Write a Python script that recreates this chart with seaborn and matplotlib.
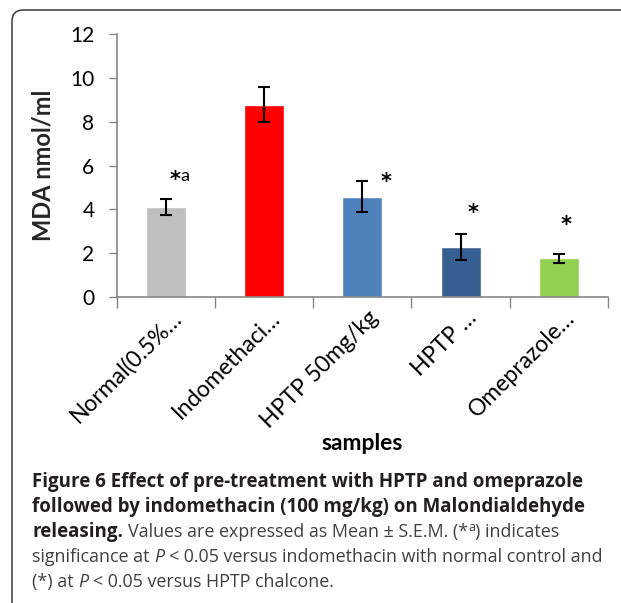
import numpy as np
import seaborn as sns
import matplotlib.pyplot as plt
from matplotlib.patches import FancyBboxPatch
from matplotlib.transforms import IdentityTransform, ScaledTranslation

# data
samples = ["Normal(0.5%\u2026", "Indomethaci\u2026", "HPTP 50mg/kg", "HPTP \u2026", "Omeprazole\u2026"]
mda = [4.12, 8.77, 4.57, 2.27, 1.77]
sem = [0.37, 0.80, 0.70, 0.60, 0.21]
bar_colors = ["#BFBFBF", "#FF0000", "#4F81BD", "#376092", "#92D050"]
marks = ["*", "", "*", "*", "*"]
mark_suffix = ["a", "", "", "", ""]
mark_x_shift = [0.09, 0.0, 0.24, 0.13, 0.07]
mark_y = [5.34, 0, 5.26, 3.83, 3.28]

W, H = 621, 603
sns.set_style("white")
plt.rcParams["font.family"] = ["Lato", "DejaVu Sans"]
plt.rcParams["text.color"] = "black"
plt.rcParams["xtick.labelcolor"] = "black"
plt.rcParams["ytick.labelcolor"] = "black"

fig = plt.figure(figsize=(W / 100, H / 100), dpi=100)
ax = fig.add_axes([116.7 / W, 1 - 297 / H, (608 - 116.7) / W, (297 - 34) / H])

sns.barplot(x=samples, y=mda, hue=samples, palette=bar_colors, saturation=1,
            width=0.407, legend=False, ax=ax)
ax.errorbar(np.arange(len(samples)), mda, yerr=sem, fmt="none", ecolor="black",
            elinewidth=1.5, capsize=4.3, capthick=1.5)

for i, m in enumerate(marks):
    if m:
        ax.text(i + mark_x_shift[i], mark_y[i], m, ha="center", va="center",
                fontsize=15, fontweight="bold", fontfamily="DejaVu Sans")
    if mark_suffix[i]:
        ax.annotate(mark_suffix[i], (i + mark_x_shift[i], mark_y[i]),
                    xytext=(7, 3), textcoords="offset points", ha="center",
                    va="center", fontsize=13)

ax.set_ylim(0, 12)
ax.set_xlim(-0.5, len(samples) - 0.5)
ax.set_yticks(range(0, 13, 2))
ax.tick_params(axis="y", labelsize=15, length=6, width=1, color="#868686",
               left=True, pad=10)
ax.set_xticks(np.arange(len(samples)))
ax.set_xticklabels(samples, rotation=45, ha="right", va="baseline",
                   rotation_mode="anchor", fontsize=16.5)
ax.tick_params(axis="x", length=0, pad=0)
shift = ScaledTranslation(17 / 100, -22 / 100, fig.dpi_scale_trans)
for lab in ax.get_xticklabels():
    lab.set_transform(lab.get_transform() + shift)
ax.set_xticks(np.arange(-0.5, len(samples)), minor=True)
ax.tick_params(axis="x", which="minor", length=8, width=1, color="#868686", bottom=True)
for s in ["top", "right"]:
    ax.spines[s].set_visible(False)
for s in ["left", "bottom"]:
    ax.spines[s].set_color("#868686")
    ax.spines[s].set_linewidth(1.2)
ax.set_ylabel("MDA nmol/ml", fontsize=17, fontweight="bold")
ax.yaxis.set_label_coords(-0.1256, 0.5)
ax.set_xlabel("")
fig.text(362 / W, 1 - 444 / H, "samples", ha="center", va="center",
         fontsize=16.5, fontweight="bold")

# rounded frame
fig.add_artist(FancyBboxPatch((12, -40), 700, H - 10 + 40, transform=IdentityTransform(),
                              boxstyle="round,pad=0,rounding_size=11", fill=False,
                              edgecolor="#3A3A3A", linewidth=1.1, clip_on=False))

# caption with mixed styles
renderer = fig.canvas.get_renderer()
cap_font = ["Open Sans", "DejaVu Sans"]
B, N, I = "bold", "normal", "italic"
lines = [
    (487, [("Figure 6 Effect of pre-treatment with HPTP and omeprazole", B, N, 0)]),
    (512, [("followed by indomethacin (100 mg/kg) on Malondialdehyde", B, N, 0)]),
    (537, [("releasing. ", B, N, 0),
           ("Values are expressed as Mean \u00b1 S.E.M. (*", N, N, 0),
           ("a", N, N, 6), (") indicates", N, N, 0)]),
    (562, [("significance at ", N, N, 0), ("P ", N, I, 0),
           ("< 0.05 versus indomethacin with normal control and", N, N, 0)]),
    (587, [("(*) at ", N, N, 0), ("P ", N, I, 0),
           ("< 0.05 versus HPTP chalcone.", N, N, 0)]),
]


def width_of(txt, size, weight="normal", style="normal"):
    t = fig.text(0, 0, txt, fontsize=size, fontfamily=cap_font,
                 fontweight=weight, fontstyle=style)
    w = t.get_window_extent(renderer).width
    t.remove()
    return w


def line_width(parts, size_b, size_n):
    w = 0
    for txt, weight, style, rise in parts:
        size = (size_b if weight == B else size_n) * (0.7 if rise else 1)
        w += width_of(txt.strip(), size, weight, style)
        if txt.endswith(" "):
            w += width_of("x x", size, weight) - width_of("xx", size, weight)
    return w


size_b = 12 * 551 / line_width(lines[0][1], 12, 12)
size_n = 12 * 569 / line_width(lines[3][1], 12, 12)


def caption_line(y, parts, x0=32):
    x = x0
    for txt, weight, style, rise in parts:
        size = (size_b if weight == B else size_n) * (0.7 if rise else 1)
        color = "#231F20" if weight == B else "#404040"
        t = fig.text(x, H - y + rise, txt.strip(), transform=IdentityTransform(),
                     fontsize=size, fontfamily=cap_font, fontweight=weight,
                     fontstyle=style, va="baseline", color=color)
        x += t.get_window_extent(renderer).width
        if txt.endswith(" "):
            x += width_of("x x", size, weight) - width_of("xx", size, weight)


for y, parts in lines:
    caption_line(y, parts)

fig.savefig("out.png", dpi=100)
